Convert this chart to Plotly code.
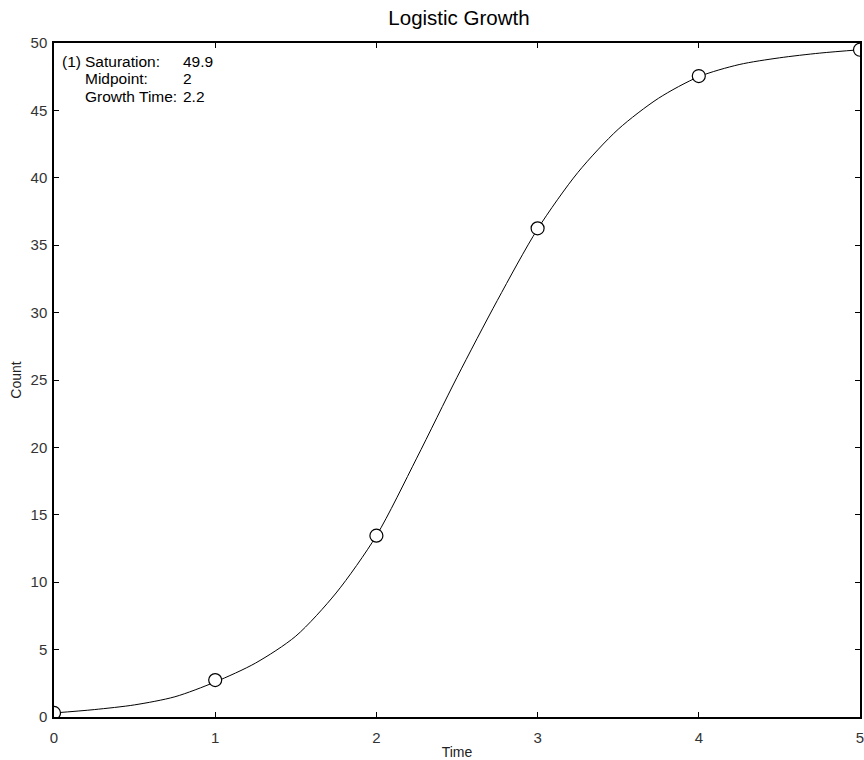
import plotly.graph_objects as go

# Observed data points
time_pts = [0, 1, 2, 3, 4, 5]
count_pts = [0.3, 2.74, 13.45, 36.25, 47.55, 49.5]

# Fitted curve
curve_t = [0, 0.25, 0.5, 0.75, 1.0, 1.25, 1.5, 1.75, 2.0, 2.25, 2.5, 2.75,
           3.0, 3.25, 3.5, 3.75, 4.0, 4.25, 4.5, 4.75, 5.0]
curve_y = [0.3, 0.55, 0.9, 1.5, 2.6, 4.0, 6.0, 9.2, 13.45, 19.2, 25.2, 30.9,
           36.2, 40.4, 43.6, 45.9, 47.5, 48.4, 48.9, 49.25, 49.5]

x_ticks = [0, 1, 2, 3, 4, 5]
y_ticks = [0, 5, 10, 15, 20, 25, 30, 35, 40, 45, 50]

title_text = "Logistic Growth"
x_title = "Time"
y_title = "Count"
fit_labels = ["Saturation:", "Midpoint:", "Growth Time:"]
fit_values = ["49.9", "2", "2.2"]

FONT = "Liberation Sans, Arial, sans-serif"
L, R, T, B = 54, 864, 43, 717
PW, PH = R - L, B - T

fig = go.Figure()
fig.add_trace(go.Scatter(
    x=curve_t, y=curve_y, mode="lines",
    line=dict(color="black", width=1, shape="spline", smoothing=0.8),
    showlegend=False, hoverinfo="skip"))
fig.add_trace(go.Scatter(
    x=time_pts, y=count_pts, mode="markers",
    marker=dict(symbol="circle", size=13, color="white",
                line=dict(color="black", width=1.2)),
    showlegend=False))

axis_common = dict(
    showline=True, linecolor="black", linewidth=1.5, mirror="ticks",
    ticks="inside", ticklen=5, tickwidth=1, tickcolor="black",
    showgrid=False, zeroline=False, ticklabeloverflow="allow",
    tickfont=dict(family=FONT, size=15, color="#333"),
)

fig.update_layout(
    width=864, height=760,
    margin=dict(l=L, r=864 - R, t=T, b=760 - B),
    paper_bgcolor="white", plot_bgcolor="white",
    title=dict(text=title_text, x=459 / 864, xanchor="center", y=1 - 18 / 760, yanchor="middle",
               font=dict(family=FONT, size=20.5, color="black")),
    xaxis=dict(range=[0, 5], tickvals=x_ticks, ticklabelstandoff=6,
               title=dict(text=x_title, font=dict(family=FONT, size=14, color="#222"), standoff=4),
               **axis_common),
    yaxis=dict(range=[0, 50], tickvals=y_ticks, ticklabelstandoff=2,
               title=dict(text=y_title, font=dict(family=FONT, size=14, color="#222"), standoff=6),
               **axis_common),
)

# Fit parameter annotation (pixel positions converted to paper coords)
row_y = [61, 79, 96.5]
for i, (lab, val) in enumerate(zip(fit_labels, fit_values)):
    yy = 1 - (row_y[i] - T) / PH
    items = []
    if i == 0:
        items.append((60, "(1)"))
    items.append((83, lab))
    items.append((181.5, val))
    for px, txt in items:
        fig.add_annotation(x=(px - L) / PW, y=yy, xref="paper", yref="paper", text=txt,
                           showarrow=False, xanchor="left", yanchor="middle",
                           font=dict(family=FONT, size=15.5, color="black"))

fig.write_html("out.html")
